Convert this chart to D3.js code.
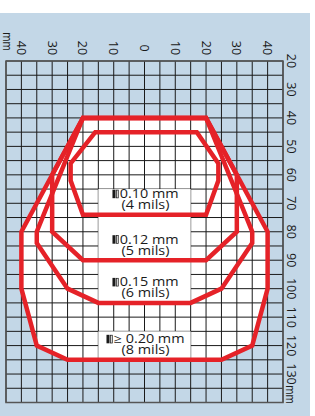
<!DOCTYPE html>
<html>
<head>
<meta charset="utf-8">
<script src="https://cdn.jsdelivr.net/npm/d3@7"></script>
<style>
  body { margin: 0; background: #fff; }
  svg { display: block; }
  text { font-family: "Open Sans", sans-serif; fill: #1a1a1a; }
</style>
</head>
<body>
<svg id="chart" width="315" height="416"></svg>
<script>
// reading field of the scanner, in mm (x = lateral, y = distance from window)
var xTicks = [-40, -30, -20, -10, 0, 10, 20, 30, 40];
var yTicks = [20, 30, 40, 50, 60, 70, 80, 90, 100, 110, 120, 130];

var zoneNames = ["0.10 mm", "0.12 mm", "0.15 mm", "\u2265 0.20 mm"];
var zoneMils = ["(4 mils)", "(5 mils)", "(6 mils)", "(8 mils)"];

var zone010 = [[-16, 45], [17, 45], [24, 56], [24, 62], [20, 74], [-20, 74], [-24, 62], [-24, 56]];
var zone012 = [[-20, 40], [20, 40], [30, 60], [30, 80], [20, 90], [-20, 90], [-30, 80], [-30, 60]];
var zone015 = [[-20, 40], [20, 40], [35, 80], [35, 84], [25, 100], [15, 105], [-15, 105], [-25, 100], [-35, 84], [-35, 80]];
var zone020 = [[-20, 40], [20, 40], [40, 80], [40, 100], [35, 120], [25, 125], [-25, 125], [-35, 120], [-40, 100], [-40, 80]];

// label boxes: [top, bottom] in mm, lateral -15..15
var labelBands = [[65, 74], [74, 90], [90, 105], [115, 125]];
var labelWidth = [-15, 15];

var zones = [zone010, zone012, zone015, zone020];

var svg = d3.select("#chart");

var x = d3.scaleLinear().domain([-45, 45]).range([6, 283]);
var y = d3.scaleLinear().domain([20, 140]).range([61, 402.5]);

var red = "#e52228";

// blue backdrop
svg.append("rect")
    .attr("x", 0).attr("y", 13)
    .attr("width", 310).attr("height", 403)
    .attr("fill", "#c3d7e7");

var line = d3.line()
    .x(function(d) { return x(d[0]); })
    .y(function(d) { return y(d[1]); })
    .curve(d3.curveLinearClosed);

// white inside the widest field
svg.append("path")
    .attr("d", line(zone020))
    .attr("fill", "#fff");

// grid
var grid = svg.append("g").attr("stroke", "#1a1a1a").attr("stroke-width", 1);
grid.selectAll("line.v")
    .data(d3.range(-45, 46, 5))
    .join("line")
    .attr("class", "v")
    .attr("x1", function(d) { return x(d); })
    .attr("x2", function(d) { return x(d); })
    .attr("y1", y(20)).attr("y2", y(140));
grid.selectAll("line.h")
    .data(d3.range(20, 141, 5))
    .join("line")
    .attr("class", "h")
    .attr("y1", function(d) { return y(d); })
    .attr("y2", function(d) { return y(d); })
    .attr("x1", x(-45)).attr("x2", x(45));

svg.append("rect")
    .attr("x", x(-45)).attr("y", y(20))
    .attr("width", x(45) - x(-45)).attr("height", y(140) - y(20))
    .attr("fill", "none")
    .attr("stroke", "#555")
    .attr("stroke-width", 1.5);

// white label boxes
svg.selectAll("rect.band")
    .data(labelBands)
    .join("rect")
    .attr("class", "band")
    .attr("x", x(labelWidth[0]))
    .attr("width", x(labelWidth[1]) - x(labelWidth[0]))
    .attr("y", function(d) { return y(d[0]); })
    .attr("height", function(d) { return y(d[1]) - y(d[0]); })
    .attr("fill", "#fff");

// red field outlines
svg.selectAll("path.zone")
    .data(zones)
    .join("path")
    .attr("class", "zone")
    .attr("d", function(d) { return line(d); })
    .attr("fill", "none")
    .attr("stroke", red)
    .attr("stroke-width", 4.5)
    .attr("stroke-linejoin", "miter");

// zone labels, drawn a bit wide like the original lettering
labelBands.forEach(function(band, i) {
    var g = svg.append("g")
        .attr("transform", "translate(" + (x(0) + 1) + "," + y(band[1]) + ") scale(1.2,1)");
    var t1 = g.append("text")
        .attr("y", -16.5)
        .attr("font-size", 12)
        .text(zoneNames[i]);
    var w = t1.node().getComputedTextLength();
    var iconW = 6;
    var start = -(w + iconW) / 2;
    t1.attr("x", start + iconW);
    g.append("rect")
        .attr("x", start).attr("y", -25)
        .attr("width", 2.5).attr("height", 8.5)
        .attr("fill", "#1a1a1a");
    g.append("rect")
        .attr("x", start + 3.2).attr("y", -24.6)
        .attr("width", 1.6).attr("height", 7.8)
        .attr("fill", "#fff")
        .attr("stroke", "#1a1a1a")
        .attr("stroke-width", 0.7);
    g.append("text")
        .attr("y", -5.5)
        .attr("text-anchor", "middle")
        .attr("font-size", 12)
        .text(zoneMils[i]);
});

// top tick labels (rotated)
svg.selectAll("text.xt")
    .data(xTicks)
    .join("text")
    .attr("class", "xt")
    .attr("font-size", 12.5)
    .attr("text-anchor", "middle")
    .attr("dominant-baseline", "central")
    .attr("transform", function(d) { return "translate(" + x(d) + ",48) rotate(90)"; })
    .text(function(d) { return Math.abs(d); });
svg.append("text")
    .attr("font-size", 12.5)
    .attr("text-anchor", "middle")
    .attr("dominant-baseline", "central")
    .attr("transform", "translate(8,41.5) rotate(90) scale(0.8,1)")
    .text("mm");

// right tick labels (rotated)
svg.selectAll("text.yt")
    .data(yTicks)
    .join("text")
    .attr("class", "yt")
    .attr("font-size", 12.5)
    .attr("text-anchor", "middle")
    .attr("dominant-baseline", "central")
    .attr("transform", function(d) { return "translate(291," + y(d) + ") rotate(90)"; })
    .text(function(d) { return d; });
svg.append("text")
    .attr("font-size", 12.5)
    .attr("text-anchor", "middle")
    .attr("dominant-baseline", "central")
    .attr("transform", "translate(291,394.5) rotate(90) scale(0.8,1)")
    .text("mm");
</script>
</body>
</html>
